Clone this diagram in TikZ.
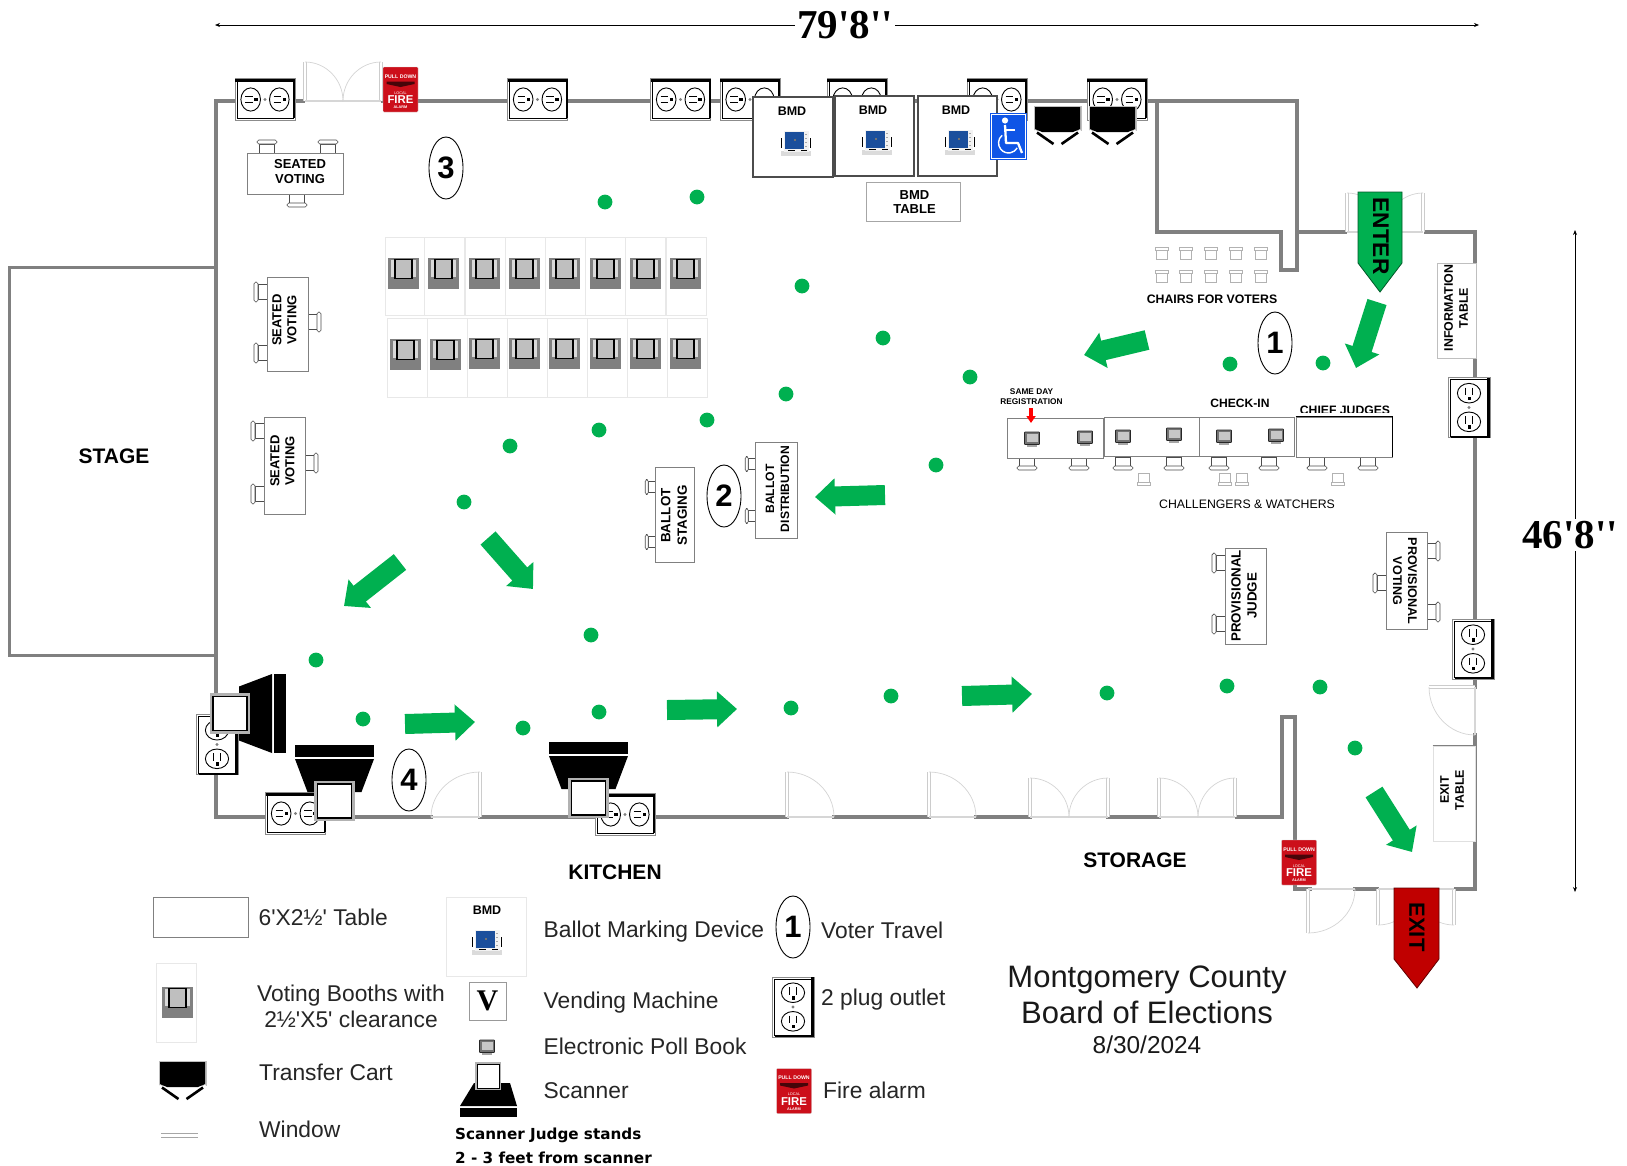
\documentclass[tikz,border=0pt]{standalone}
\usepackage{fontspec}
\setmainfont[Ligatures=TeXOff]{Liberation Sans}
\newfontfamily\tmsfont{Liberation Serif}
\newfontfamily\djvfont{DejaVu Sans}
\usetikzlibrary{arrows.meta,calc,shapes.geometric}
\definecolor{wallgray}{HTML}{808080}
\definecolor{flowgreen}{HTML}{00B050}
\definecolor{exitred}{HTML}{C00000}
\definecolor{alarmred}{HTML}{CC0F1A}
\definecolor{bmdblue}{HTML}{1B4F9C}
\definecolor{wcblue}{HTML}{0F55E6}
\newcommand\fz[2]{\fontsize{#1}{#2}\selectfont}
\newcommand\fpdoor[3]{%
  \draw[doorleaf] (#1) -- (#2);
  \draw[doorclose] (#1) -- (#3);
  \draw[doorarc] (#2) .. controls ($(#2)+0.55*(#3)-0.55*(#1)$) and ($(#3)+0.55*(#2)-0.55*(#1)$) .. (#3);}
\tikzset{
  wall/.style={draw=wallgray,line width=4pt,line cap=rect,line join=miter},
  doorleaf/.style={draw=black!20,line width=.8pt,double=white,double distance=1.5pt},
  doorclose/.style={draw=black!16,line width=1.2pt},
  doorarc/.style={draw=black!17,line width=.7pt},
  tbl/.style={draw=black!50,fill=white,line width=.8pt},
  lbl/.style={inner sep=0pt,align=center,text=black,font=\bfseries\fz{13}{15}},
  rlbl/.style={inner sep=0pt,align=center,text=black,font=\bfseries\fz{12.4}{15}},
  room/.style={inner sep=0pt,text=black,font=\bfseries\fz{21}{24}},
  leg/.style={inner sep=0pt,anchor=west,text=black!85,font=\fz{22.8}{26.5}},
  numring/.style={draw=black,fill=white,ellipse,minimum width=34pt,minimum height=62pt,inner sep=0pt,line width=.9pt,font=\bfseries\fz{31}{31}},
  flowdot/.style={fill=flowgreen},
  flow/.style={draw=flowgreen,line width=20pt,-{Triangle[length=20pt,width=35pt]}},
  dimline/.style={draw=black,line width=.7pt,{Stealth[length=5pt,width=4pt]}-{Stealth[length=5pt,width=4pt]}},
  dimtext/.style={fill=white,inner sep=2pt,text=black,font=\tmsfont\bfseries\fz{41}{44}},
  chair/.pic={
    \draw[draw=black!70,fill=white,line width=.6pt] (-7.5,-9) -- (-7.5,0) -- (7.5,0) -- (7.5,-9) -- cycle;
    \draw[draw=black!70,fill=white,line width=.6pt,rounded corners=1.8pt] (-10,-13) rectangle (10,-9);
  },
  palechair/.pic={
    \draw[draw=black!30,fill=white,line width=.7pt] (-5.5,-9) -- (-5.5,0) -- (5.5,0) -- (5.5,-9) -- cycle;
    \draw[draw=black!30,fill=white,line width=.7pt] (-6.5,-12) rectangle (6.5,-9);
  },
  outlet/.pic={
    \draw[draw=black!45,fill=white,line width=.6pt] (-30,-21) rectangle (30,21);
    \draw[draw=black,line width=.7pt] (-28,-18) rectangle (28.5,18.5);
    \fill[black] (-30,-21) rectangle (30,-18);
    \fill[black] (28.5,-18) rectangle (30,18.5);
    \foreach \s in {-14.3,14.3}{
      \draw[draw=black,line width=.9pt,fill=white] (\s,0) ellipse (9.8 and 11.6);
      \draw[black,line width=.9pt] (\s-5.7,-3.3) -- (\s+1.8,-3.3) (\s-5.7,3.3) -- (\s+1.8,3.3);
      \fill[black] (\s+3.6,-1.6) rectangle (\s+6.8,1.4);
    }
    \fill[black!50] (0,0) circle (1.6);
  },
  alarm/.pic={
    \fill[alarmred,draw=black!15,line width=.4pt,rounded corners=.8pt] (-17.5,-22.5) rectangle (17.5,22.5);
    \node[inner sep=0pt,text=white,font=\bfseries\fz{5.2}{6}] (pd) at (0,-13.2) {PULL DOWN};
    \fill[black!65!alarmred] (-14,-8) -- (14,-8) -- (14,-5.5) -- (0,-2.5) -- (-14,-5.5) -- cycle;
    \node[inner sep=0pt,text=white,font=\fz{3.8}{4}] (lc) at (0,3.5) {LOCAL};
    \node[inner sep=0pt,text=white,font=\bfseries\fz{11.4}{12}] (fr) at (0,10.5) {FIRE};
    \node[inner sep=0pt,text=white,font=\bfseries\fz{3.8}{4}] (al) at (0,18) {ALARM};
  },
  booth/.pic={
    \fill[wallgray] (0,0) rectangle (31,31);
    \fill[black!15] (3.3,2) rectangle (28,19);
    \draw[draw=black,fill=black!25,line width=1.1pt] (7,1.8) rectangle (24,20.8);
  },
  bmddev/.pic={
    \fill[black!14] (-15,8) rectangle (15,12.5);
    \fill[black!5] (-12,-12) rectangle (13,9);
    \fill[bmdblue] (-11,-11.5) rectangle (7.6,5.5);
    \fill[black!55] (-1.8,-4) rectangle (-.2,-2.4);
    \fill[black] (-15,-5.5) rectangle (-14.2,4.5);
    \fill[black] (13.8,-5.5) rectangle (15,4.5);
    \fill[black] (-8,6.8) rectangle (-.8,8.4);
    \fill[black] (5,6.8) rectangle (10.5,8.4);
    \foreach \q in {-9,-5,-1,3}{\fill[black!35] (9,\q) rectangle (11,\q+1.4);}
  },
  cart/.pic={
    \fill[black!25] (-1.5,-1.5) rectangle (46.5,24);
    \fill[black] (0,0) -- (45,0) -- (45,22) -- (38,25) -- (7,25) -- (0,22) -- cycle;
    \draw[white,line width=3.4pt] (-1,24) -- (7,29);
    \draw[white,line width=3.4pt] (46,24) -- (38,29);
    \draw[black,line width=2.6pt] (2,25.5) -- (18.5,37);
    \draw[black,line width=2.6pt] (43,25.5) -- (26.5,37);
  },
  floorscan/.pic={
    \fill[black] (-39.5,0) rectangle (39.5,12);
    \fill[black] (-39.5,14) -- (39.5,14) -- (27,47) -- (-27,47) -- cycle;
    \draw[draw=black!30,fill=white,line width=3.2pt] (-18.6,37.4) rectangle (18.6,74.6);
    \draw[draw=black,line width=1.3pt] (-17,39) rectangle (17,73);
  },
  pollbook/.pic={
    \fill[black!35] (-5,6) rectangle (5,8.5);
    \draw[draw=black!85,fill=black!55,line width=.7pt,rounded corners=.6pt] (-7.5,-6) rectangle (7.5,6.5);
    \fill[black!22] (-5.5,-4) rectangle (5.5,3.5);
  },
}
\begin{document}
\begin{tikzpicture}[x=1pt,y=-1pt]
\useasboundingbox (0,0) rectangle (1627,1165);
\fill[white] (0,0) rectangle (1627,1165);

% ---- dimensions
\coordinate (dimTL) at (215,25);
\coordinate (dimTR) at (1479,25);
\coordinate (dimRT) at (1575,230);
\coordinate (dimRB) at (1575,892);
\draw[dimline] (dimTL) -- (dimTR);
\draw[dimline] (dimRT) -- (dimRB);
\node[dimtext] (dimW) at (845,25) {79'8''};
\node[dimtext] (dimH) at (1570,535) {46'8''};

% ---- stage
\draw[draw=wallgray,line width=3pt,fill=white] (9,267.5) rectangle (216,655);
\node[room] (stage) at (114,456) {STAGE};

% ---- walls
\draw[wall] (303,101) -- (216,101) -- (216,817) -- (431,817);
\draw[wall] (383,101) -- (1297,101) -- (1297,270) -- (1281,270) -- (1281,232) -- (1157,232) -- (1157,101);
\draw[wall] (1297,232) -- (1345,232);
\draw[wall] (1426,232) -- (1475,232) -- (1475,687);
\draw[wall] (1475,735) -- (1475,889) -- (1456,889);
\draw[wall] (1377,889) -- (1355,889);
\draw[wall] (1310,889) -- (1295,889) -- (1295,717) -- (1282,717) -- (1282,817) -- (1237,817);
\draw[wall] (480,817) -- (787,817);
\draw[wall] (834,817) -- (929,817);
\draw[wall] (976,817) -- (1030,817);
\draw[wall] (1108,817) -- (1159,817);

% ---- doors
\fpdoor{305,101}{305,62}{343,101}
\fpdoor{381,101}{381,62}{343,101}
\fpdoor{480,817}{480,772}{431,817}
\fpdoor{787,817}{787,772}{834,817}
\fpdoor{929,817}{929,772}{976,817}
\fpdoor{1030,817}{1030,778}{1069,817}
\fpdoor{1108,817}{1108,778}{1069,817}
\fpdoor{1159,817}{1159,778}{1198,817}
\fpdoor{1235,817}{1235,778}{1198,817}
\fpdoor{1347,232}{1347,193}{1385,232}
\fpdoor{1423,232}{1423,193}{1385,232}
\fpdoor{1475,687}{1429,687}{1475,735}
\fpdoor{1308,889}{1308,933}{1355,889}
\fpdoor{1378,889}{1378,925}{1416,889}
\fpdoor{1454,889}{1454,925}{1416,889}

% ---- outlets
\foreach \x in {265,537.5,680.5,750,857,997,1117} \pic at (\x,99.5) {outlet};
\pic at (295.5,813.5) {outlet};
\pic at (625,814.5) {outlet};
\pic[rotate=-90] at (1469,407.5) {outlet};
\pic[rotate=-90] at (1473,649) {outlet};
\pic[rotate=-90] at (217,744.5) {outlet};

% ---- fire alarms
\pic at (400.5,89.5) {alarm};
\pic at (1299,862.5) {alarm};

% ---- BMD stations
\draw[draw=black!70,fill=white,line width=1.3pt] (753,97) rectangle (833,177);
\draw[draw=black!70,fill=white,line width=1.3pt] (835,96) rectangle (914,176);
\draw[draw=black!70,fill=white,line width=1.3pt] (918,96) rectangle (997,176);
\node[lbl,font=\bfseries\fz{12.5}{14}] (bmd1) at (792,111) {BMD};
\node[lbl,font=\bfseries\fz{12.5}{14}] (bmd2) at (873,110) {BMD};
\node[lbl,font=\bfseries\fz{12.5}{14}] (bmd3) at (956,110) {BMD};
\pic at (796,143) {bmddev};
\pic at (877,142) {bmddev};
\pic at (960,142) {bmddev};
\node[tbl,draw=black!35,minimum width=94pt,minimum height=39pt,inner sep=0pt,align=center,font=\bfseries\fz{13}{14}] (bmdtable) at (913,202) {\hspace{3pt}BMD\\\hspace{3pt}TABLE};

% ---- accessible symbol
\begin{scope}[shift={(990,113)}]
  \fill[wcblue] (0,0) rectangle (37,47);
  \draw[white,line width=.5pt] (1.3,1.3) rectangle (35.7,45.7);
  \fill[white] (15,7.5) circle (3.1);
  \draw[white,line width=2.3pt,line join=round] (15,12) -- (16,30) -- (28,30) -- (32,40);
  \draw[white,line width=1.8pt] (15,17) -- (25,17);
  \draw[white,line width=1.4pt] (12.1,22.3) arc[start angle=130,end angle=330,radius=10pt];
\end{scope}

% ---- transfer carts
\pic at (1035,107) {cart};
\pic at (1090,107) {cart};

% ---- seated voting
\pic at (267,153) {chair};
\pic at (328,153) {chair};
\pic[rotate=180] at (297,194) {chair};
\node[tbl,minimum width=96pt,minimum height=41pt,inner sep=0pt] (sv1t) at (295,173.5) {};
\node[lbl] (sv1) at (300,172) {SEATED\\VOTING};

\pic[rotate=90] at (267,292) {chair};
\pic[rotate=90] at (267,353) {chair};
\pic[rotate=-90] at (308,322) {chair};
\node[tbl,minimum width=41pt,minimum height=94pt,inner sep=0pt] (sv2t) at (287.5,324) {};
\node[lbl,rotate=90] (sv2) at (284.5,320) {SEATED\\VOTING};

\pic[rotate=90] at (264,431) {chair};
\pic[rotate=90] at (264,494) {chair};
\pic[rotate=-90] at (305,463) {chair};
\node[tbl,minimum width=41pt,minimum height=97pt,inner sep=0pt] (sv3t) at (284.5,465.5) {};
\node[lbl,rotate=90] (sv3) at (282.5,461) {SEATED\\VOTING};

% ---- voting booths
\foreach \x in {385,424.5,465,505,545,585,625.5,666}
  \draw[draw=black!9,fill=white,line width=.8pt] (\x,237) rectangle ++(40,78);
\foreach \x in {387,427,467,507,547,587,627,667}
  \draw[draw=black!9,fill=white,line width=.8pt] (\x,318) rectangle ++(40,79);
\foreach \x in {388,428,469,509,549,590,630,670} \pic at (\x,258) {booth};
\pic at (390,339) {booth};
\pic at (430,339) {booth};
\foreach \x in {469,509,549,590,630,670} \pic at (\x,338) {booth};

% ---- walking route dots
\foreach \x/\y in {605/202,697/197,802/286,883/338,970/377,786/394,707/420,599/430,510/446,464/502,936/465,591/635,316/660,363/719,523/728,599/712,791/708,891/696,1107/693,1227/686,1320/687,1355/748,1230/364,1323/363}
  \fill[flowdot] (\x,\y) circle (7.4);

% ---- flow arrows
\coordinate (fa1) at (1377,302); \coordinate (fb1) at (1356,368);
\coordinate (fa2) at (1147,340); \coordinate (fb2) at (1084,355);
\coordinate (fa3) at (885,495);  \coordinate (fb3) at (815,497);
\coordinate (fa4) at (488,538);  \coordinate (fb4) at (533,589);
\coordinate (fa5) at (400,562);  \coordinate (fb5) at (344,606);
\coordinate (fa6) at (405,724);  \coordinate (fb6) at (475,722);
\coordinate (fa7) at (667,710);  \coordinate (fb7) at (737,709);
\coordinate (fa8) at (962,696);  \coordinate (fb8) at (1032,694);
\coordinate (fa9) at (1374,792); \coordinate (fb9) at (1412,852);
\foreach \i in {1,...,9} \draw[flow] (fa\i) -- (fb\i);

% ---- enter / exit
\draw[draw=black!50!flowgreen,fill=flowgreen,line width=.8pt] (1358,192) -- (1402,192) -- (1402,263) -- (1380,292) -- (1358,263) -- cycle;
\node[rotate=-90,inner sep=0pt,font=\bfseries\fz{22.7}{24}] (enter) at (1381,236) {ENTER};
\draw[draw=black!50!exitred,fill=exitred,line width=.8pt] (1394,888) -- (1439,888) -- (1439,959) -- (1417,988) -- (1394,959) -- cycle;
\node[rotate=-90,inner sep=0pt,font=\bfseries\fz{22}{24}] (exit) at (1417,927) {EXIT};

% ---- numbered stops
\node[numring] (n3) at (446,168) {3};
\node[numring] (n1) at (1275,343) {1};
\node[numring] (n2) at (724,496) {2};
\node[numring] (n4) at (409,780) {4};

% ---- ballot tables
\pic[rotate=90,scale=.75] at (655,487) {chair};
\pic[rotate=90,scale=.75] at (655,542) {chair};
\node[tbl,minimum width=39pt,minimum height=95pt,inner sep=0pt] (bst) at (674.5,514.5) {};
\node[lbl,rotate=90,font=\bfseries\fz{13.4}{16.5}] (bs) at (674,515.5) {BALLOT\\STAGING};
\pic[rotate=90,scale=.75] at (755,464) {chair};
\pic[rotate=90,scale=.75] at (755,516) {chair};
\node[tbl,minimum width=42pt,minimum height=96pt,inner sep=0pt] (bdt) at (776,490) {};
\node[lbl,rotate=90,font=\bfseries\fz{12.1}{15}] (bd) at (777.5,489) {BALLOT\\DISTRIBUTION};

% ---- chairs for voters
\foreach \x in {1162,1186,1211,1236,1261} {
  \pic at (\x,259) {palechair};
  \pic at (\x,282) {palechair};
}
\node[lbl,font=\bfseries\fz{12.3}{14}] (cv) at (1212,299) {CHAIRS FOR VOTERS};
\node[tbl,draw=black!25,minimum width=39pt,minimum height=95pt,inner sep=0pt] (itt) at (1456.5,310.5) {};
\node[rlbl,rotate=90] (it) at (1456,308) {INFORMATION\\TABLE};

% ---- check-in line
\node[lbl,font=\bfseries\fz{8.3}{10}] (sdr) at (1031.5,397) {SAME DAY\\REGISTRATION};
\node[lbl,font=\bfseries\fz{12.1}{14}] (ci) at (1240,403) {CHECK-IN};
\node[lbl,font=\bfseries\fz{12.2}{14}] (cj) at (1345,410) {CHIEF JUDGES};
\fill[white] (1290,413) rectangle (1395,417);
\foreach \x in {1027,1079,1123,1174,1219,1269,1317,1368}
  \pic[rotate=180] at (\x,457) {chair};
\node[tbl,minimum width=96pt,minimum height=40pt,inner sep=0pt] (t1) at (1055,438) {};
\node[tbl,minimum width=95pt,minimum height=39pt,inner sep=0pt] (t2) at (1151.5,436.5) {};
\node[tbl,minimum width=95pt,minimum height=39pt,inner sep=0pt] (t3) at (1246.5,436.5) {};
\node[tbl,minimum width=96pt,minimum height=40pt,inner sep=0pt] (t4) at (1344,437) {};
\draw[black,line width=.9pt] (t4.north west) -- (t4.north east) -- (t4.south east);
\foreach \x/\y in {1032/438,1085/437,1123/436,1174/434,1224/436,1276/435}
  \pic at (\x,\y) {pollbook};
\coordinate (ra) at (1031,408);
\coordinate (rb) at (1031,423);
\draw[draw=red,line width=4pt,-{Triangle[length=7pt,width=9pt]}] (ra) -- (rb);
\foreach \x in {1144,1225,1242,1338}
  \pic[rotate=180] at (\x,473) {palechair};
\node[inner sep=0pt,font=\fz{12.3}{14}] (cw) at (1247,504) {CHALLENGERS \& WATCHERS};

% ---- provisional tables
\pic[rotate=90] at (1225,563) {chair};
\pic[rotate=90] at (1225,624) {chair};
\node[tbl,minimum width=41pt,minimum height=96pt,inner sep=0pt] (pjt) at (1245.5,596) {};
\node[lbl,rotate=90,font=\bfseries\fz{13.3}{16}] (pj) at (1244,596) {PROVISIONAL\\JUDGE};
\pic[rotate=-90] at (1427,551) {chair};
\pic[rotate=-90] at (1427,612) {chair};
\pic[rotate=90] at (1386,583) {chair};
\node[tbl,minimum width=41pt,minimum height=97pt,inner sep=0pt] (pvt) at (1406.5,580.5) {};
\node[lbl,rotate=-90,font=\bfseries\fz{12.6}{15}] (pv) at (1405,581) {PROVISIONAL\\VOTING};

% ---- exit table
\node[tbl,draw=black!12,minimum width=42pt,minimum height=95pt,inner sep=0pt] (ext) at (1454,793.5) {};
\draw[black!50,line width=.8pt] (ext.north west) -- (ext.north east);
\node[rlbl,rotate=90] (ex) at (1452,790) {EXIT\\TABLE};

% ---- scanners
\pic[rotate=-90] at (286,713.5) {floorscan};
\pic at (334.5,745) {floorscan};
\pic at (588.5,742) {floorscan};

% ---- room names
\node[room] (kitchen) at (615,872) {KITCHEN};
\node[room] (storage) at (1135,860) {STORAGE};

% ---- title
\node[inner sep=0pt,font=\fz{31}{36},text=black!90] (title1) at (1147,980) {Montgomery County};
\node[inner sep=0pt,font=\fz{31}{36},text=black!90] (title2) at (1147,1012) {Board of Elections};
\node[inner sep=0pt,font=\fz{24.4}{26},text=black!90] (title3) at (1147,1045) {8/30/2024};

% ---- legend, first column
\node[tbl,minimum width=95pt,minimum height=40pt,inner sep=0pt] (lgT) at (200.5,917) {};
\node[leg] (lgTt) at (258.5,917) {6'X2½' Table};
\draw[draw=black!9,fill=white,line width=.8pt] (156,963) rectangle (196,1042);
\begin{scope}[shift={(162,987)},scale=.92]
  \pic at (0,0) {booth};
\end{scope}
\node[leg,anchor=center,align=center] (lgB) at (351,1006.5) {Voting Booths with\\2½'X5' clearance};
\pic at (160,1062) {cart};
\node[leg] (lgC) at (259,1072) {Transfer Cart};
\draw[black!35,line width=.8pt] (161,1133) -- (198,1133) (161,1137) -- (198,1137);
\node[leg] (lgW) at (259,1129) {Window};

% ---- legend, second column
\draw[draw=black!9,fill=white,line width=.8pt] (446,897) rectangle (526,976);
\node[lbl,font=\bfseries\fz{12.5}{14}] (lgBt) at (487,910) {BMD};
\pic at (487,942) {bmddev};
\node[leg] (lgBM) at (543.5,932) {Ballot Marking Device};
\node[draw=black!40,fill=white,minimum width=37pt,minimum height=38pt,inner sep=0pt,line width=.8pt,font=\tmsfont\bfseries\fz{30}{30}] (lgV) at (487.5,1001) {V};
\node[leg] (lgVt) at (543.5,1003) {Vending Machine};
\pic at (487,1046) {pollbook};
\node[leg] (lgP) at (543.5,1046) {Electronic Poll Book};
\fill[black] (474,1083) -- (510,1083) -- (517,1106) -- (460,1106) -- cycle;
\fill[black] (460,1108) rectangle (517,1117);
\draw[draw=black!30,fill=white,line width=2.4pt] (476,1063) rectangle (500,1089);
\draw[draw=black,line width=.9pt] (477,1064) rectangle (499,1088);
\node[leg] (lgS) at (543.5,1091) {Scanner};
\node[inner sep=0pt,anchor=west,font=\djvfont\bfseries\fz{15.2}{18}] (lgJ1) at (455,1135) {Scanner Judge stands};
\node[inner sep=0pt,anchor=west,font=\djvfont\bfseries\fz{15.2}{18}] (lgJ2) at (455,1158) {2 - 3 feet from scanner};

% ---- legend, third column
\node[numring] (lgN) at (793,927) {1};
\node[leg] (lgNt) at (821,930) {Voter Travel};
\pic[rotate=-90] at (793,1007) {outlet};
\node[leg] (lgOt) at (821,1000) {2 plug outlet};
\pic at (794,1091) {alarm};
\node[leg] (lgFt) at (823,1090) {Fire alarm};
\end{tikzpicture}
\end{document}
